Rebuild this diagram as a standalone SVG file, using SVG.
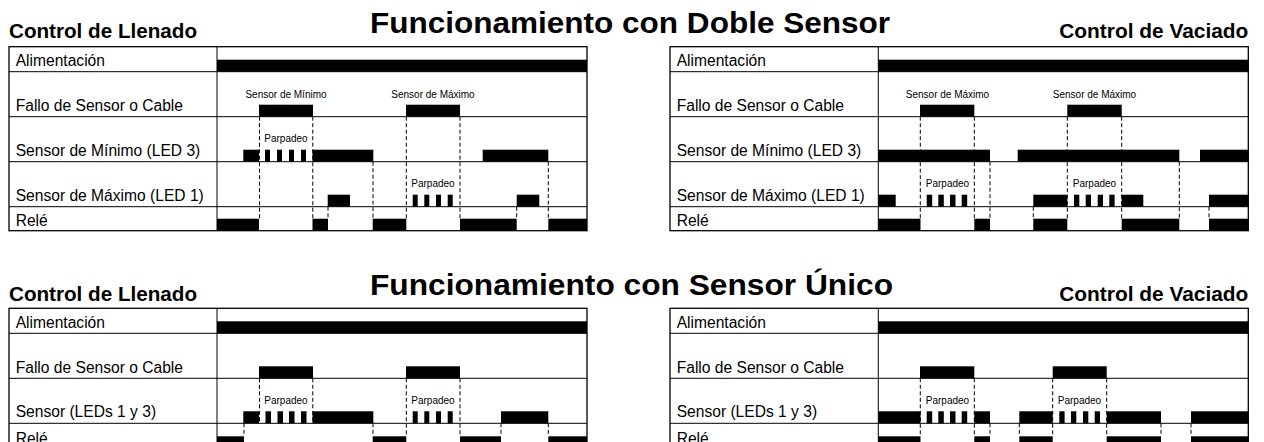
<svg xmlns="http://www.w3.org/2000/svg" width="1264" height="442" viewBox="0 0 1264 442">
<style>
.box{fill:none;stroke:#000;stroke-width:1.3}
.rl{stroke:#000;stroke-width:1;fill:none}
.bar{fill:#000}
.t{font-family:"Liberation Sans",Arial,sans-serif;fill:#000}
.lbl{font-size:15.6px}
.sm{font-size:10px;text-anchor:middle}
.sub{font-size:19.5px;font-weight:bold}
.main{font-size:29px;font-weight:bold}
.dash{stroke:#000;stroke-width:1;stroke-dasharray:4 2.5;fill:none}
</style>
<rect width="1264" height="442" fill="#fff"/>

<g id="titles">
<text class="t main" x="370" y="33.3" textLength="520" lengthAdjust="spacingAndGlyphs">Funcionamiento con Doble Sensor</text>
<text class="t sub" x="9" y="38.3" textLength="188" lengthAdjust="spacingAndGlyphs">Control de Llenado</text>
<text class="t sub" x="1059.3" y="38.3" textLength="189" lengthAdjust="spacingAndGlyphs">Control de Vaciado</text>
<text class="t main" x="370" y="295" textLength="523" lengthAdjust="spacingAndGlyphs">Funcionamiento con Sensor Único</text>
<text class="t sub" x="9" y="300.5" textLength="188" lengthAdjust="spacingAndGlyphs">Control de Llenado</text>
<text class="t sub" x="1059.3" y="300.5" textLength="189" lengthAdjust="spacingAndGlyphs">Control de Vaciado</text>
</g>

<!-- Top-left panel -->
<g id="panel-doble-llenado">
<rect class="box" x="9" y="46.7" width="578" height="184"/>
<path class="rl" d="M217 46.7V230.7M9 71.7H587M9 116.7H587M9 161.7H587M9 206.7H587"/>
<g id="dl-alim"><text class="t lbl" x="15.7" y="66">Alimentación</text><rect class="bar" x="217" y="59.7" width="370" height="12"/></g>
<g id="dl-fallo"><text class="t lbl" x="15.7" y="110.8">Fallo de Sensor o Cable</text>
<rect class="bar" x="259" y="104.7" width="54" height="12"/><rect class="bar" x="406" y="104.7" width="54" height="12"/>
<text class="t sm" x="286" y="98">Sensor de Mínimo</text><text class="t sm" x="433" y="98">Sensor de Máximo</text></g>
<g id="dl-min"><text class="t lbl" x="15.7" y="155.7">Sensor de Mínimo (LED 3)</text>
<rect class="bar" x="243.3" y="149.7" width="15.7" height="12"/>
<rect class="bar" x="265" y="149.7" width="5" height="12"/><rect class="bar" x="277" y="149.7" width="5" height="12"/><rect class="bar" x="289" y="149.7" width="5" height="12"/><rect class="bar" x="301" y="149.7" width="5" height="12"/>
<rect class="bar" x="312.5" y="149.7" width="60.8" height="12"/><rect class="bar" x="482.7" y="149.7" width="65.6" height="12"/>
<text class="t sm" x="286" y="141.7">Parpadeo</text></g>
<g id="dl-max"><text class="t lbl" x="15.7" y="200.5">Sensor de Máximo (LED 1)</text>
<rect class="bar" x="327.7" y="194.7" width="22.3" height="12"/>
<rect class="bar" x="412.7" y="194.7" width="5" height="12"/><rect class="bar" x="424.3" y="194.7" width="5" height="12"/><rect class="bar" x="436" y="194.7" width="5" height="12"/><rect class="bar" x="447.7" y="194.7" width="5" height="12"/>
<rect class="bar" x="516.7" y="194.7" width="22.6" height="12"/>
<text class="t sm" x="433" y="186.7">Parpadeo</text></g>
<g id="dl-rele"><text class="t lbl" x="15.7" y="226.3">Relé</text>
<rect class="bar" x="217" y="218.7" width="42" height="12"/><rect class="bar" x="312.5" y="218.7" width="15.5" height="12"/><rect class="bar" x="372.7" y="218.7" width="33.6" height="12"/><rect class="bar" x="460" y="218.7" width="56.7" height="12"/><rect class="bar" x="548.3" y="218.7" width="38.7" height="12"/></g>
</g>

<!-- Top-right panel -->
<g id="panel-doble-vaciado">
<rect class="box" x="670" y="46.7" width="578.3" height="184"/>
<path class="rl" d="M878.3 46.7V230.7M670 71.7H1248.3M670 116.7H1248.3M670 161.7H1248.3M670 206.7H1248.3"/>
<g id="dv-alim"><text class="t lbl" x="676.7" y="66">Alimentación</text><rect class="bar" x="878.3" y="59.7" width="370" height="12"/></g>
<g id="dv-fallo"><text class="t lbl" x="676.7" y="110.8">Fallo de Sensor o Cable</text>
<rect class="bar" x="920" y="104.7" width="54.3" height="12"/><rect class="bar" x="1067.3" y="104.7" width="54.4" height="12"/>
<text class="t sm" x="947.5" y="98">Sensor de Máximo</text><text class="t sm" x="1094.5" y="98">Sensor de Máximo</text></g>
<g id="dv-min"><text class="t lbl" x="676.7" y="155.7">Sensor de Mínimo (LED 3)</text>
<rect class="bar" x="878.3" y="149.7" width="111.7" height="12"/><rect class="bar" x="1017.7" y="149.7" width="161.6" height="12"/><rect class="bar" x="1200" y="149.7" width="48.3" height="12"/></g>
<g id="dv-max"><text class="t lbl" x="676.7" y="200.5">Sensor de Máximo (LED 1)</text>
<rect class="bar" x="878.3" y="194.7" width="17.4" height="12"/>
<rect class="bar" x="926.7" y="194.7" width="5.5" height="12"/><rect class="bar" x="938.3" y="194.7" width="5.5" height="12"/><rect class="bar" x="950" y="194.7" width="5.5" height="12"/><rect class="bar" x="961.7" y="194.7" width="5.5" height="12"/>
<rect class="bar" x="1033.3" y="194.7" width="34" height="12"/>
<rect class="bar" x="1074" y="194.7" width="5.3" height="12"/><rect class="bar" x="1085.7" y="194.7" width="5.3" height="12"/><rect class="bar" x="1097.7" y="194.7" width="5.3" height="12"/><rect class="bar" x="1109.3" y="194.7" width="5.3" height="12"/>
<rect class="bar" x="1121.7" y="194.7" width="21.6" height="12"/><rect class="bar" x="1209" y="194.7" width="39.3" height="12"/>
<text class="t sm" x="947.5" y="186.7">Parpadeo</text><text class="t sm" x="1094.5" y="186.7">Parpadeo</text></g>
<g id="dv-rele"><text class="t lbl" x="676.7" y="226.3">Relé</text>
<rect class="bar" x="878.3" y="218.7" width="42.2" height="12"/><rect class="bar" x="974.3" y="218.7" width="15.7" height="12"/><rect class="bar" x="1033.3" y="218.7" width="34" height="12"/><rect class="bar" x="1121.7" y="218.7" width="57.6" height="12"/><rect class="bar" x="1209" y="218.7" width="39.3" height="12"/></g>
</g>

<!-- Bottom-left panel -->
<g id="panel-unico-llenado">
<rect class="box" x="9" y="308.3" width="578" height="150"/>
<path class="rl" d="M217 308.3V458M9 333.3H587M9 378.3H587M9 423.3H587"/>
<g id="ul-alim"><text class="t lbl" x="15.7" y="328">Alimentación</text><rect class="bar" x="217" y="321.3" width="370" height="12"/></g>
<g id="ul-fallo"><text class="t lbl" x="15.7" y="372.5">Fallo de Sensor o Cable</text>
<rect class="bar" x="259" y="366.3" width="54" height="12"/><rect class="bar" x="406" y="366.3" width="54" height="12"/></g>
<g id="ul-sensor"><text class="t lbl" x="15.7" y="417.3">Sensor (LEDs 1 y 3)</text>
<rect class="bar" x="243.3" y="411.3" width="15.7" height="12"/>
<rect class="bar" x="265.5" y="411.3" width="5.5" height="12"/><rect class="bar" x="277.5" y="411.3" width="5.5" height="12"/><rect class="bar" x="289" y="411.3" width="5.5" height="12"/><rect class="bar" x="301" y="411.3" width="5.5" height="12"/>
<rect class="bar" x="312.5" y="411.3" width="60.8" height="12"/>
<rect class="bar" x="412.7" y="411.3" width="5" height="12"/><rect class="bar" x="424.3" y="411.3" width="5" height="12"/><rect class="bar" x="436" y="411.3" width="5" height="12"/><rect class="bar" x="447.7" y="411.3" width="5" height="12"/>
<rect class="bar" x="501" y="411.3" width="47.3" height="12"/>
<text class="t sm" x="286" y="404">Parpadeo</text><text class="t sm" x="433" y="404">Parpadeo</text></g>
<g id="ul-rele"><text class="t lbl" x="15.7" y="443.5">Relé</text>
<rect class="bar" x="217" y="436.3" width="27" height="12"/><rect class="bar" x="372.7" y="436.3" width="33.6" height="12"/><rect class="bar" x="460" y="436.3" width="41" height="12"/><rect class="bar" x="548.3" y="436.3" width="38.7" height="12"/></g>
</g>

<!-- Bottom-right panel -->
<g id="panel-unico-vaciado">
<rect class="box" x="670" y="308.3" width="578.3" height="150"/>
<path class="rl" d="M878.3 308.3V458M670 333.3H1248.3M670 378.3H1248.3M670 423.3H1248.3"/>
<g id="uv-alim"><text class="t lbl" x="676.7" y="328">Alimentación</text><rect class="bar" x="878.3" y="321.3" width="370" height="12"/></g>
<g id="uv-fallo"><text class="t lbl" x="676.7" y="372.5">Fallo de Sensor o Cable</text>
<rect class="bar" x="920" y="366.3" width="54.3" height="12"/><rect class="bar" x="1052.7" y="366.3" width="54" height="12"/></g>
<g id="uv-sensor"><text class="t lbl" x="676.7" y="417.3">Sensor (LEDs 1 y 3)</text>
<rect class="bar" x="878.3" y="411.3" width="42.2" height="12"/>
<rect class="bar" x="926.7" y="411.3" width="5.5" height="12"/><rect class="bar" x="938.3" y="411.3" width="5.5" height="12"/><rect class="bar" x="950" y="411.3" width="5.5" height="12"/><rect class="bar" x="961.7" y="411.3" width="5.5" height="12"/>
<rect class="bar" x="974.3" y="411.3" width="15.7" height="12"/><rect class="bar" x="1019.3" y="411.3" width="33.4" height="12"/>
<rect class="bar" x="1059.3" y="411.3" width="5.3" height="12"/><rect class="bar" x="1071" y="411.3" width="5.3" height="12"/><rect class="bar" x="1083" y="411.3" width="5.3" height="12"/><rect class="bar" x="1094.7" y="411.3" width="5.3" height="12"/>
<rect class="bar" x="1106.7" y="411.3" width="54.3" height="12"/><rect class="bar" x="1191" y="411.3" width="57.3" height="12"/>
<text class="t sm" x="947.5" y="404">Parpadeo</text><text class="t sm" x="1079.5" y="404">Parpadeo</text></g>
<g id="uv-rele"><text class="t lbl" x="676.7" y="443.5">Relé</text>
<rect class="bar" x="878.3" y="436.3" width="42.2" height="12"/><rect class="bar" x="974.3" y="436.3" width="15.7" height="12"/><rect class="bar" x="1019.3" y="436.3" width="33.4" height="12"/><rect class="bar" x="1106.7" y="436.3" width="54.3" height="12"/><rect class="bar" x="1191" y="436.3" width="57.3" height="12"/></g>
</g>

<g id="connectors">
<path class="dash" d="M259.5 116.7V218.7M312.8 116.7V218.7M328 206.7V218.7M373 161.7V218.7M406.3 116.7V218.7M460 116.7V218.7M516.7 206.7V218.7M548.3 161.7V218.7"/>
<path class="dash" d="M920.3 116.7V218.7M974.3 116.7V218.7M990 161.7V218.7M1033.3 206.7V218.7M1067.3 116.7V218.7M1121.7 116.7V218.7M1179.3 161.7V218.7M1209 206.7V218.7"/>
<path class="dash" d="M244 423.3V436.3M259.5 378.3V423.3M312.8 378.3V423.3M373 423.3V436.3M406.3 378.3V436.3M460 378.3V436.3M501 423.3V436.3M548.3 423.3V436.3"/>
<path class="dash" d="M920.3 378.3V436.3M974.3 378.3V436.3M990 423.3V436.3M1019.3 423.3V436.3M1052.7 378.3V436.3M1106.7 378.3V436.3M1161 423.3V436.3M1191 423.3V436.3"/>
</g>
</svg>
